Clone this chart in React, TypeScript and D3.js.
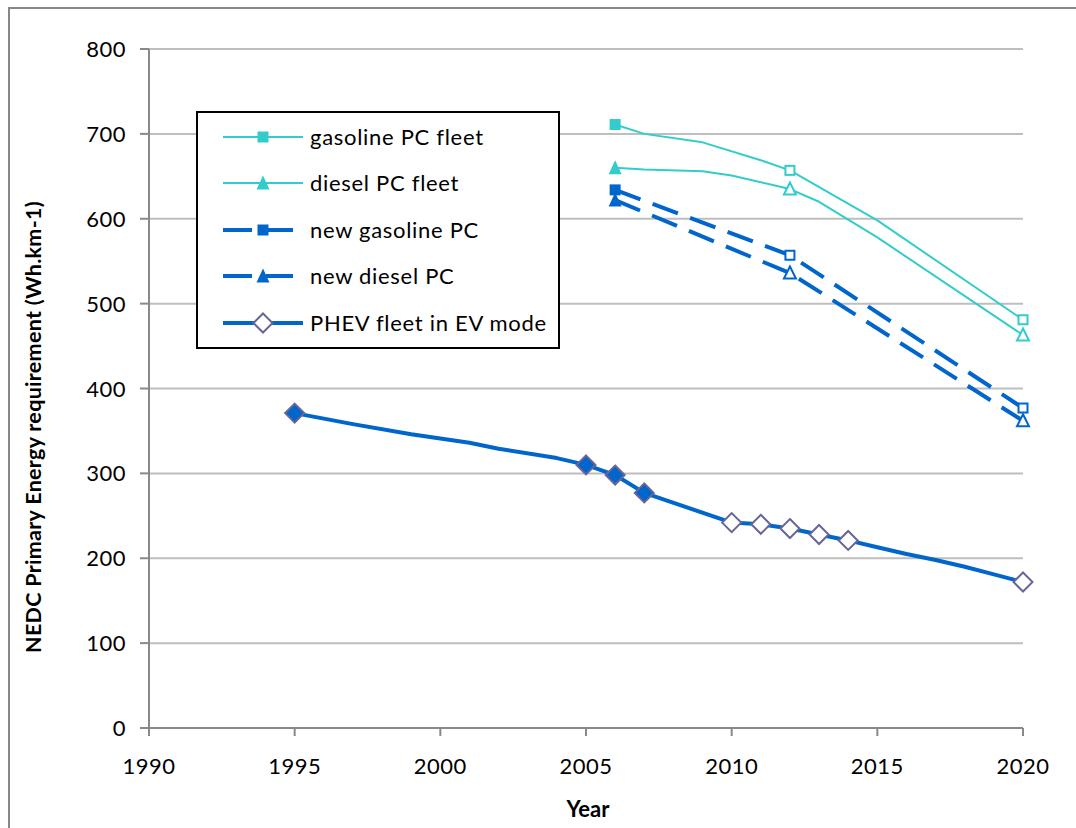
import React from "react";
import * as d3 from "d3";

// ---- data ----
const xTicks = [1990, 1995, 2000, 2005, 2010, 2015, 2020];
const yTicks = [0, 100, 200, 300, 400, 500, 600, 700, 800];

const gasFleetYears = [2006, 2007, 2009, 2011, 2012, 2015, 2020];
const gasFleetValues = [711, 700, 690, 669, 657, 598, 481];
const gasFleetMarkers = [2006, 2012, 2020];
const gasFleetFilled = [true, false, false];

const dieselFleetYears = [2006, 2007, 2009, 2010, 2012, 2013, 2015, 2020];
const dieselFleetValues = [660, 658, 656, 651, 635, 620, 578, 463];
const dieselFleetMarkers = [2006, 2012, 2020];
const dieselFleetFilled = [true, false, false];

const newGasYears = [2006, 2012, 2020];
const newGasValues = [634, 557, 377];
const newGasMarkers = [2006, 2012, 2020];
const newGasFilled = [true, false, false];

const newDieselYears = [2006, 2012, 2020];
const newDieselValues = [622, 536, 362];
const newDieselMarkers = [2006, 2012, 2020];
const newDieselFilled = [true, false, false];

const phevYears = [1995, 1997, 1999, 2001, 2002, 2004, 2005, 2006, 2007, 2010, 2011, 2012, 2013, 2014, 2015, 2016, 2017, 2018, 2019, 2020];
const phevValues = [371, 358, 346, 336, 329, 318, 310, 298, 277, 242, 240, 235, 228, 221, 213, 205, 198, 190, 181, 172];
const phevMarkers = [1995, 2005, 2006, 2007, 2010, 2011, 2012, 2013, 2014, 2020];
const phevFilled = [true, true, true, true, false, false, false, false, false, false];

const legendLabels = ["gasoline PC fleet", "diesel PC fleet", "new gasoline PC", "new diesel PC", "PHEV fleet in EV mode"];

const TEAL = "#33CCCC";
const BLUE = "#0066CC";
const PURPLE = "#666699";
const FONT = "Lato, 'Open Sans', sans-serif";

type Shape = "square" | "triangle" | "diamond";
interface Series {
  years: number[];
  values: number[];
  markers: number[];
  filled: boolean[];
  color: string;
  width: number;
  dash?: string;
  shape: Shape;
  markerStroke: string;
  markerFill: string;
}

const series: Series[] = [
  { years: gasFleetYears, values: gasFleetValues, markers: gasFleetMarkers, filled: gasFleetFilled, color: TEAL, width: 2, shape: "square", markerStroke: TEAL, markerFill: TEAL },
  { years: dieselFleetYears, values: dieselFleetValues, markers: dieselFleetMarkers, filled: dieselFleetFilled, color: TEAL, width: 2, shape: "triangle", markerStroke: TEAL, markerFill: TEAL },
  { years: newGasYears, values: newGasValues, markers: newGasMarkers, filled: newGasFilled, color: BLUE, width: 4, dash: "27,13", shape: "square", markerStroke: BLUE, markerFill: BLUE },
  { years: newDieselYears, values: newDieselValues, markers: newDieselMarkers, filled: newDieselFilled, color: BLUE, width: 4, dash: "27,13", shape: "triangle", markerStroke: BLUE, markerFill: BLUE },
  { years: phevYears, values: phevValues, markers: phevMarkers, filled: phevFilled, color: BLUE, width: 4, shape: "diamond", markerStroke: PURPLE, markerFill: BLUE },
];

function Marker({ shape, cx, cy, filled, stroke, fill }: { shape: Shape; cx: number; cy: number; filled: boolean; stroke: string; fill: string }) {
  const f = filled ? fill : "#ffffff";
  if (shape === "square") {
    const s = filled ? 11 : 9;
    return <rect x={cx - s / 2} y={cy - s / 2} width={s} height={s} fill={f} stroke={stroke} strokeWidth={filled ? 0 : 2} />;
  }
  if (shape === "triangle") {
    const h = filled ? 13 : 11;
    const w = filled ? 13 : 12;
    const p = `${cx},${cy - h / 2 - 1} ${cx + w / 2},${cy + h / 2} ${cx - w / 2},${cy + h / 2}`;
    return <polygon points={p} fill={f} stroke={stroke} strokeWidth={filled ? 0 : 2} strokeLinejoin="miter" />;
  }
  const r = 9.5;
  const p = `${cx},${cy - r} ${cx + r},${cy} ${cx},${cy + r} ${cx - r},${cy}`;
  return <polygon points={p} fill={f} stroke={stroke} strokeWidth={2} />;
}

export default function App() {
  const W = 1076;
  const H = 828;
  const x = d3.scaleLinear().domain([1990, 2020]).range([149, 1023]);
  const y = d3.scaleLinear().domain([0, 800]).range([728, 49]);
  const line = d3
    .line<[number, number]>()
    .x((d) => x(d[0]))
    .y((d) => y(d[1]))
    .curve(d3.curveLinear);

  const legendX = 197;
  const legendY = 112;
  const legendRows = [137, 183, 230, 276, 323];

  return (
    <svg width={W} height={H} style={{ position: "absolute", left: 0, top: 0, background: "#fff" }} fontFamily={FONT}>
      <rect x={0} y={0} width={W} height={H} fill="#fff" />
      {/* outer frame */}
      <rect x={9} y={8} width={W + 20} height={H + 20} fill="none" stroke="#878787" strokeWidth={2} />

      {/* gridlines */}
      {yTicks.slice(1).map((t) => (
        <line key={"g" + t} x1={149} x2={1023} y1={y(t)} y2={y(t)} stroke="#BEBEBE" strokeWidth={2} />
      ))}
      {/* axes */}
      <line x1={149} x2={149} y1={y(800)} y2={y(0)} stroke="#898989" strokeWidth={2} />
      <line x1={149} x2={1023} y1={y(0)} y2={y(0)} stroke="#898989" strokeWidth={2} />
      {yTicks.map((t) => (
        <g key={"yt" + t}>
          <line x1={140} x2={149} y1={y(t)} y2={y(t)} stroke="#898989" strokeWidth={2} />
          <text x={126} y={y(t) + 8} textAnchor="end" fontSize={22} letterSpacing={0.5} fill="#000">
            {t}
          </text>
        </g>
      ))}
      {xTicks.map((t) => (
        <g key={"xt" + t}>
          <line x1={x(t)} x2={x(t)} y1={y(0)} y2={y(0) + 8} stroke="#898989" strokeWidth={2} />
          <text x={x(t)} y={774} textAnchor="middle" fontSize={22} letterSpacing={0.5} fill="#000">
            {t}
          </text>
        </g>
      ))}

      {/* axis titles */}
      <text x={588} y={817} textAnchor="middle" fontSize={22} fontWeight="bold">
        Year
      </text>
      <text transform={`translate(41, 427) rotate(-90)`} textAnchor="middle" fontSize={21.5} fontWeight="bold" letterSpacing={0.3}>
        NEDC Primary Energy requirement (Wh.km-1)
      </text>

      {/* series lines */}
      {series.map((s, i) => (
        <path
          key={"l" + i}
          d={line(s.years.map((yr, j) => [yr, s.values[j]] as [number, number])) || ""}
          fill="none"
          stroke={s.color}
          strokeWidth={s.width}
          strokeDasharray={s.dash}
          strokeLinejoin="round"
        />
      ))}
      {/* markers */}
      {series.map((s, i) =>
        s.markers.map((yr, j) => {
          const v = s.values[s.years.indexOf(yr)];
          return (
            <Marker key={"m" + i + "-" + j} shape={s.shape} cx={x(yr)} cy={y(v)} filled={s.filled[j]} stroke={s.markerStroke} fill={s.markerFill} />
          );
        })
      )}

      {/* legend */}
      <rect x={legendX} y={legendY} width={362} height={236} fill="#fff" stroke="#000" strokeWidth={2} />
      {series.map((s, i) => {
        const ly = legendRows[i];
        return (
          <g key={"lg" + i}>
            {s.dash ? (
              <>
                <line x1={223} x2={252} y1={ly} y2={ly} stroke={s.color} strokeWidth={s.width} />
                <line x1={266} x2={293} y1={ly} y2={ly} stroke={s.color} strokeWidth={s.width} />
              </>
            ) : (
              <line x1={223} x2={303} y1={ly} y2={ly} stroke={s.color} strokeWidth={s.width} />
            )}
            <Marker shape={s.shape} cx={263} cy={ly} filled={i < 4} stroke={s.markerStroke} fill={s.markerFill} />
            <text x={310} y={ly + 8} fontSize={22} letterSpacing={0.7} fill="#000">
              {legendLabels[i]}
            </text>
          </g>
        );
      })}
    </svg>
  );
}
